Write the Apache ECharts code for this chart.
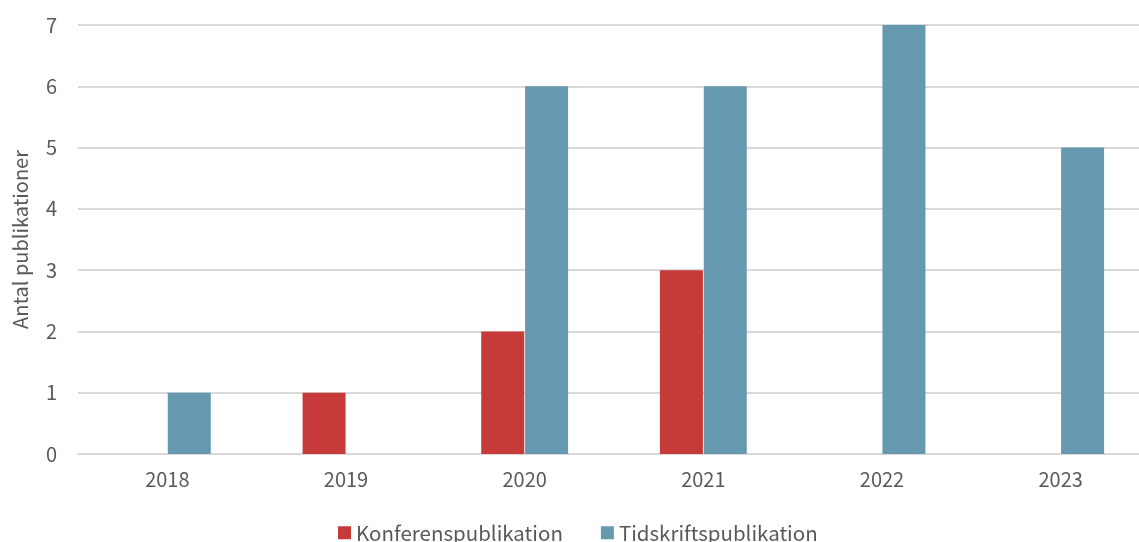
<!DOCTYPE html>
<html>
<head>
<meta charset="utf-8">
<script src="https://cdn.jsdelivr.net/npm/echarts@6/dist/echarts.min.js"></script>
<style>
  html, body { margin: 0; padding: 0; background: #fff; }
  #chart { width: 1139px; height: 542px; }
</style>
</head>
<body>
<div id="chart"></div>
<script>
const years = ['2018', '2019', '2020', '2021', '2022', '2023']
const konferens = ['-', 1, 2, 3, '-', '-']
const tidskrift = [1, '-', 6, 6, 7, 5]
const yTicks = [0, 1, 2, 3, 4, 5, 6, 7]

const font = '"Noto Sans CJK JP", "Noto Sans", sans-serif'
const chart = echarts.init(document.getElementById('chart'))
chart.setOption({
  animation: false,
  textStyle: { fontFamily: font },
  grid: { left: 78, width: 1072, top: 25, bottom: 88, outerBoundsMode: 'none', containLabel: false },
  legend: {
    bottom: -6,
    left: 333,
    itemWidth: 13,
    itemHeight: 13,
    itemGap: 38,
    icon: 'rect',
    textStyle: { fontSize: 20.5, color: '#595959', fontFamily: font },
    data: ['Konferenspublikation', 'Tidskriftspublikation']
  },
  xAxis: {
    type: 'category',
    data: years,
    axisLine: { lineStyle: { color: '#d9d9d9', width: 2 } },
    axisTick: { show: false },
    axisLabel: { fontSize: 20, color: '#595959', margin: 15, fontFamily: font }
  },
  yAxis: {
    type: 'value',
    min: yTicks[0],
    max: yTicks[yTicks.length - 1],
    interval: 1,
    name: 'Antal publikationer',
    nameLocation: 'middle',
    nameGap: 48,
    nameTextStyle: { fontSize: 20, color: '#595959', fontFamily: font },
    axisLine: { show: false },
    axisTick: { show: false },
    splitLine: { lineStyle: { color: '#d9d9d9', width: 2 } },
    axisLabel: { fontSize: 20, color: '#595959', margin: 21, fontFamily: font }
  },
  series: [
    {
      name: 'Konferenspublikation',
      type: 'bar',
      data: konferens,
      barWidth: 43,
      barGap: '2%',
      itemStyle: { color: '#c73a3a' }
    },
    {
      name: 'Tidskriftspublikation',
      type: 'bar',
      data: tidskrift,
      barWidth: 43,
      barGap: '2%',
      itemStyle: { color: '#6699b0' }
    }
  ]
})
</script>
</body>
</html>
